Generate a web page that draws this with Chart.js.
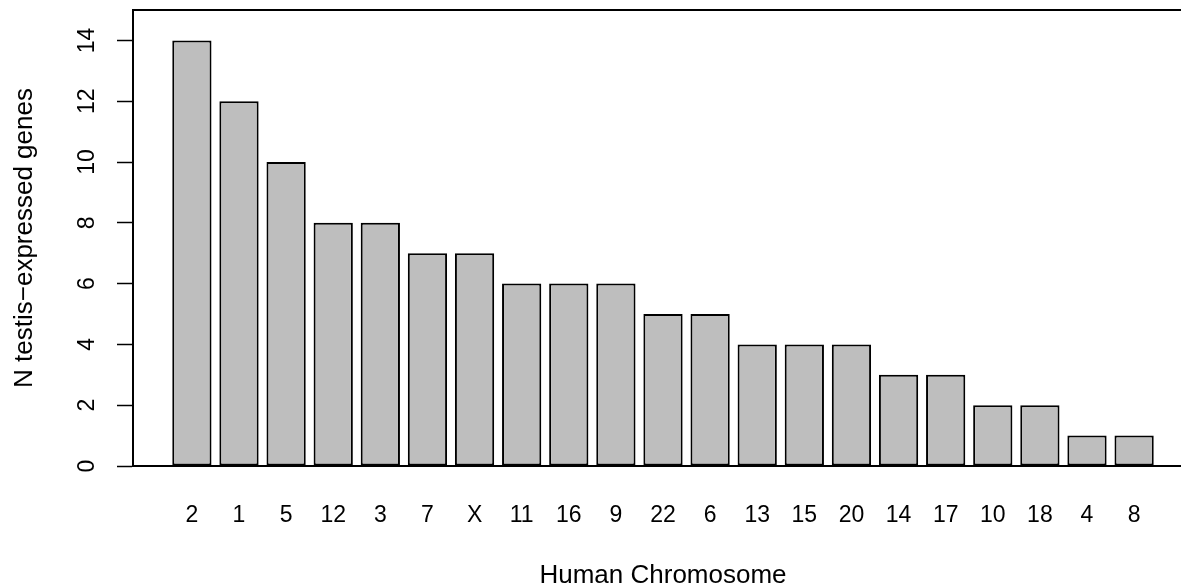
<!DOCTYPE html>
<html>
<head>
<meta charset="utf-8">
<script src="https://cdn.jsdelivr.net/npm/chart.js@4/dist/chart.umd.min.js"></script>
<style>
    html, body { margin: 0; padding: 0; background: #fff; overflow: hidden; }
    #wrap { width: 1200px; height: 588px; position: relative; }
</style>
</head>
<body>
<div id="wrap"><canvas id="myChart"></canvas></div>
<script>
// chromosomes, sorted by gene count
const chromosomes = ['2', '1', '5', '12', '3', '7', 'X', '11', '16', '9', '22', '6', '13', '15', '20', '14', '17', '10', '18', '4', '8'];
const geneCounts = [14, 12, 10, 8, 8, 7, 7, 6, 6, 6, 5, 5, 4, 4, 4, 3, 3, 2, 2, 1, 1];
const yTicks = [0, 2, 4, 6, 8, 10, 12, 14];

// barplot-style positions: width 1, space 0.2, 4% extra on each side
const barSpace = 0.2;
const barCenters = chromosomes.map((c, i) => barSpace + 0.5 + i * (1 + barSpace));
const span = chromosomes.length * (1 + barSpace) - barSpace;
const xMin = barSpace - 0.04 * span;
const xMax = barSpace + span + 0.04 * span;

const fontFamily = '"Liberation Sans", Arial, Helvetica, sans-serif';
const tickFont = { family: fontFamily, size: 23 };
const labelFont = { family: fontFamily, size: 26 };

// top edge of the frame
const topLine = {
    id: 'topLine',
    afterDraw(chart) {
        const { ctx, chartArea } = chart;
        ctx.save();
        ctx.strokeStyle = '#000';
        ctx.lineWidth = 2;
        ctx.beginPath();
        ctx.moveTo(chartArea.left - 1, chartArea.top);
        ctx.lineTo(chartArea.right, chartArea.top);
        ctx.stroke();
        ctx.restore();
    }
};

const noPadding = scale => {
    scale.paddingTop = 0;
    scale.paddingBottom = 0;
    scale.paddingLeft = 0;
    scale.paddingRight = 0;
};

document.addEventListener('DOMContentLoaded', () => {
    const ctx = document.getElementById('myChart');

    new Chart(ctx, {
        type: 'bar',
        data: {
            datasets: [{
                data: geneCounts.map((v, i) => ({ x: barCenters[i], y: v })),
                backgroundColor: '#BEBEBE',
                borderColor: '#000',
                borderWidth: 2,
                borderSkipped: false,
                categoryPercentage: 1,
                barPercentage: 1 / (1 + barSpace)
            }]
        },
        options: {
            responsive: true,
            maintainAspectRatio: false,
            animation: false,
            layout: { padding: { top: 10, right: 7, bottom: 0, left: 0 } },
            plugins: {
                legend: { display: false },
                tooltip: { enabled: false }
            },
            scales: {
                x: {
                    type: 'linear',
                    offset: false,
                    min: xMin,
                    max: xMax,
                    afterFit: scale => {
                        scale.height = 122;
                        noPadding(scale);
                    },
                    afterBuildTicks: scale => {
                        scale.ticks = barCenters.map(v => ({ value: v }));
                    },
                    ticks: {
                        autoSkip: false,
                        maxRotation: 0,
                        padding: 36,
                        color: '#000',
                        font: tickFont,
                        callback: (value, index) => chromosomes[index]
                    },
                    grid: { display: true, drawOnChartArea: false, drawTicks: false, offset: false },
                    border: { display: true, color: '#000', width: 2 },
                    title: {
                        display: true,
                        text: 'Human Chromosome',
                        color: '#000',
                        font: labelFont,
                        padding: { top: 0, bottom: -3 }
                    }
                },
                y: {
                    min: 0,
                    max: 15,
                    afterFit: scale => {
                        scale.width = 133;
                        noPadding(scale);
                    },
                    afterBuildTicks: scale => {
                        scale.ticks = yTicks.map(v => ({ value: v }));
                    },
                    ticks: {
                        minRotation: 90,
                        maxRotation: 90,
                        crossAlign: 'center',
                        padding: 17,
                        color: '#000',
                        font: tickFont
                    },
                    grid: {
                        display: true,
                        drawOnChartArea: false,
                        drawTicks: true,
                        tickLength: 16,
                        tickWidth: 1.5,
                        tickColor: '#000'
                    },
                    border: { display: true, color: '#000', width: 2 },
                    title: {
                        display: true,
                        text: 'N testis−expressed genes',
                        color: '#000',
                        font: labelFont,
                        padding: { top: 9, bottom: 0 }
                    }
                }
            }
        },
        plugins: [topLine]
    });
});
</script>
</body>
</html>
